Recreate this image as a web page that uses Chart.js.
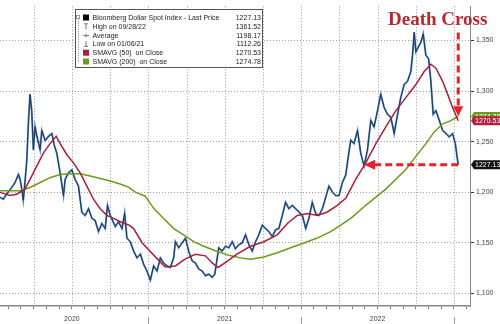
<!DOCTYPE html>
<html>
<head>
<meta charset="utf-8">
<script src="https://cdn.jsdelivr.net/npm/chart.js@4.4.0/dist/chart.umd.min.js"></script>
<style>
  html, body { margin: 0; padding: 0; background: #fff; }
  #wrap { width: 500px; height: 324px; }
</style>
</head>
<body>
<div id="wrap"><canvas id="chart" width="500" height="324"></canvas></div>
<script>

// time axis in decimal years
const priceT = [
  2020.030,2020.051,2020.073,2020.106,2020.128,2020.150,2020.161,2020.172,2020.182,2020.193,
  2020.205,2020.215,2020.226,2020.237,2020.248,2020.259,2020.270,2020.292,2020.303,2020.325,
  2020.346,2020.369,2020.384,2020.401,2020.423,2020.445,2020.456,2020.477,2020.500,2020.521,
  2020.543,2020.565,2020.587,2020.609,2020.631,2020.652,2020.674,2020.696,2020.718,2020.733,
  2020.751,2020.784,2020.805,2020.828,2020.845,2020.860,2020.882,2020.904,2020.926,2020.948,
  2020.969,2020.991,2021.013,2021.035,2021.057,2021.079,2021.100,2021.123,2021.144,2021.166,
  2021.177,2021.199,2021.221,2021.243,2021.264,2021.287,2021.308,2021.330,2021.352,2021.374,
  2021.395,2021.418,2021.435,2021.451,2021.461,2021.483,2021.505,2021.527,2021.549,2021.570,
  2021.592,2021.614,2021.636,2021.658,2021.680,2021.702,2021.723,2021.746,2021.767,2021.789,
  2021.811,2021.833,2021.854,2021.877,2021.898,2021.920,2021.942,2021.964,2021.986,2022.008,
  2022.030,2022.051,2022.073,2022.095,2022.117,2022.139,2022.161,2022.182,2022.205,2022.226,
  2022.248,2022.270,2022.292,2022.313,2022.325,2022.346,2022.369,2022.390,2022.412,2022.434,
  2022.456,2022.477,2022.500,2022.521,2022.543,2022.565,2022.587,2022.609,2022.631,2022.652,
  2022.674,2022.696,2022.718,2022.729,2022.740,2022.751,2022.772,2022.784,2022.799,2022.816,
  2022.834,2022.849,2022.864,2022.882,2022.904,2022.926,2022.948,2022.969,2022.991,2023.009,
  2023.020,2023.028
];
const priceV = [
  1195,1193,1198,1204.6,1209.5,1217.5,1212.7,1203,1192,1210,
  1232,1267.6,1296.7,1280.6,1241.8,1264.7,1256,1241.8,1261,1251,
  1255,1258,1246.6,1238.6,1219,1196.6,1212.7,1219,1222,1212.7,
  1206,1180,1177,1183.6,1174,1172,1161,1169,1164,1187,
  1177,1166,1170.7,1164,1179,1154.6,1151,1141.7,1135,1138.8,
  1128.8,1122,1113,1127,1122,1135,1130,1127,1125.5,1135,
  1151,1145,1149.7,1154.6,1141.7,1132,1130,1124,1122,1117.4,
  1119,1115.8,1119,1135,1145,1141.7,1146.5,1145,1151,1144,
  1148,1149.7,1157.8,1148,1141.7,1151,1157.8,1167.5,1164,1161,
  1156,1162.7,1164,1177,1190,1183.6,1187,1183.6,1180.4,1177,
  1164,1174,1190,1178.8,1177,1183.6,1195,1206,1200,1196.6,
  1196.6,1209.5,1217,1240,1251.5,1248,1261,1238.6,1225.7,1241.8,
  1271,1264.5,1280.6,1296.7,1283.8,1277,1274,1258,1277,1293.5,
  1306.4,1309.6,1319.3,1335.5,1358,1338.7,1345,1348.5,1356.5,1335.5,
  1332,1309.6,1277,1280.6,1271,1261,1258,1254.7,1258,1248,
  1235.4,1227.13
];

const sma50T = [
  2020.030,2020.095,2020.139,2020.193,2020.226,2020.270,2020.313,2020.357,2020.397,2020.423,
  2020.467,2020.510,2020.554,2020.598,2020.641,2020.685,2020.729,2020.772,2020.816,2020.871,
  2020.904,2020.959,2021.046,2021.111,2021.177,2021.243,2021.308,2021.374,2021.418,2021.456,
  2021.511,2021.582,2021.669,2021.756,2021.844,2021.910,2021.975,2022.041,2022.106,2022.172,
  2022.237,2022.292,2022.357,2022.423,2022.489,2022.554,2022.620,2022.685,2022.751,2022.805,
  2022.849,2022.882,2022.926,2022.959,2022.991,2023.028
];
const sma50V = [
  1199.8,1196.6,1198,1203,1212.7,1225.7,1238.6,1248,1255.3,1248,
  1237,1229,1219,1206,1193,1183.6,1177,1174,1170.7,1167.5,
  1164,1150,1136,1126,1127,1134,1138.5,1137,1130,1125.5,
  1131,1139,1146.5,1151,1157.8,1169,1177,1178.8,1177,1180.4,
  1187,1194,1212.7,1229,1248,1264.5,1280.6,1293.5,1306.4,1319.3,
  1326.5,1322.6,1309.6,1296.7,1283.8,1270.53
];

const sma200T = [
  2020.030,2020.161,2020.226,2020.292,2020.357,2020.423,2020.489,2020.554,2020.620,2020.685,
  2020.751,2020.816,2020.871,2020.915,2020.980,2021.035,2021.100,2021.166,2021.231,2021.297,
  2021.363,2021.439,2021.527,2021.603,2021.669,2021.756,2021.844,2021.931,2022.018,2022.106,
  2022.193,2022.259,2022.325,2022.423,2022.489,2022.554,2022.620,2022.685,2022.751,2022.816,
  2022.871,2022.926,2022.969,2023.028
];
const sma200V = [
  1201.4,1201.4,1204.6,1209.5,1214.3,1217.5,1218.2,1218.2,1216,1213.4,
  1211,1208,1205,1200,1196,1184,1174,1164,1157.8,1151,
  1146.5,1142,1137.5,1135,1133.6,1135.8,1140,1145,1149.7,1154.6,
  1161,1167.5,1174,1187,1195,1203,1212.7,1222.4,1235.4,1248,
  1259.6,1267.6,1270,1274.78
];

const yTicks = [1100, 1150, 1200, 1250, 1300, 1350];
const years = [2020, 2021, 2022, 2023];

const legendLabels = [
  'Bloomberg Dollar Spot Index - Last Price',
  'High on 09/28/22',
  'Average',
  'Low on 01/06/21',
  'SMAVG (50)  on Close',
  'SMAVG (200)  on Close'
];
const legendValues = ['1227.13', '1361.52', '1198.17', '1112.26', '1270.53', '1274.78'];

const RED = '#a4213f';
const GREEN = '#6b9a1f';
const ARROW = '#e3232b';
const GRID = '#9a9a9a';
const FONT = '"Liberation Sans", Arial, sans-serif';

function pts(t, v) {
  return t.map(function(x, i) { return {x: x, y: v[i]}; });
}

/*
* extra drawings: vertical grid, legend box, year separators, last value tags, annotation
*/
const decorations = {
  id: 'decorations',
  beforeDatasetsDraw: function(chart) {
    const ctx = chart.ctx;
    const xs = chart.scales.x;
    const area = chart.chartArea;

    // dotted vertical grid every quarter
    ctx.save();
    ctx.strokeStyle = GRID;
    ctx.lineWidth = 1;
    ctx.setLineDash([1, 2]);
    for (let q = 0; q <= 13; q++) {
      const px = Math.round(xs.getPixelForValue(2020 + q / 4)) + 0.5;
      if (px <= area.left || px >= area.right) continue;
      ctx.beginPath();
      ctx.moveTo(px, area.top);
      ctx.lineTo(px, area.bottom);
      ctx.stroke();
    }
    ctx.restore();
  },
  afterDraw: function(chart) {
    const ctx = chart.ctx;
    const xs = chart.scales.x;
    const ys = chart.scales.y;
    const area = chart.chartArea;

    ctx.save();

    // year separators under the axis
    ctx.strokeStyle = '#999';
    ctx.lineWidth = 1;
    years.forEach(function(yr) {
      const px = Math.round(xs.getPixelForValue(yr)) + 0.5;
      if (px > area.left && px < area.right) {
        ctx.beginPath();
        ctx.moveTo(px, area.bottom + 11);
        ctx.lineTo(px, 324);
        ctx.stroke();
      }
    });

    // last value tags on the right axis
    const tags = [
      [sma200V[sma200V.length - 1], GREEN, '#fff'],
      [sma50V[sma50V.length - 1], '#b3203f', '#fff'],
      [priceV[priceV.length - 1], '#111', '#fff']
    ];
    tags.forEach(function(tag) {
      const py = ys.getPixelForValue(tag[0]);
      ctx.fillStyle = tag[1];
      ctx.beginPath();
      ctx.moveTo(area.right + 1, py);
      ctx.lineTo(area.right + 4, py - 4.5);
      ctx.lineTo(500, py - 4.5);
      ctx.lineTo(500, py + 4.5);
      ctx.lineTo(area.right + 4, py + 4.5);
      ctx.closePath();
      ctx.fill();
      ctx.fillStyle = tag[2];
      ctx.font = '7px ' + FONT;
      ctx.textBaseline = 'middle';
      ctx.textAlign = 'left';
      ctx.fillText(tag[0].toFixed(2), area.right + 5, py + 0.5);
    });

    // legend box
    ctx.fillStyle = '#fff';
    ctx.fillRect(75.5, 9.5, 187, 58);
    ctx.strokeStyle = '#555';
    ctx.lineWidth = 1;
    ctx.strokeRect(75.5, 9.5, 187, 58);

    // little tree on the left
    ctx.strokeStyle = '#999';
    ctx.strokeRect(76.5, 15.5, 3, 3);
    ctx.setLineDash([1, 1]);
    ctx.beginPath();
    ctx.moveTo(78.5, 19);
    ctx.lineTo(78.5, 62);
    ctx.stroke();
    ctx.setLineDash([]);

    ctx.font = '7px ' + FONT;
    ctx.textBaseline = 'middle';
    legendLabels.forEach(function(label, i) {
      const ry = 17.5 + i * 8.8;
      ctx.strokeStyle = '#777';
      ctx.lineWidth = 1;
      if (i == 0 || i == 4 || i == 5) {
        ctx.fillStyle = i == 0 ? '#000' : (i == 4 ? RED : GREEN);
        ctx.fillRect(83, ry - 3, 6, 6);
      } else if (i == 1) {
        ctx.beginPath();
        ctx.moveTo(84, ry - 2.5); ctx.lineTo(88, ry - 2.5);
        ctx.moveTo(86, ry - 2.5); ctx.lineTo(86, ry + 3);
        ctx.stroke();
      } else if (i == 2) {
        ctx.beginPath();
        ctx.moveTo(83, ry + 0.5); ctx.lineTo(89, ry + 0.5);
        ctx.moveTo(86, ry - 1.5); ctx.lineTo(86, ry + 2.5);
        ctx.stroke();
      } else {
        ctx.beginPath();
        ctx.moveTo(86, ry - 3); ctx.lineTo(86, ry + 2.5);
        ctx.moveTo(84, ry + 2.5); ctx.lineTo(88, ry + 2.5);
        ctx.stroke();
      }
      ctx.fillStyle = '#222';
      ctx.textAlign = 'left';
      ctx.fillText(label, 92.5, ry + 0.5);
      ctx.textAlign = 'right';
      ctx.fillText(legendValues[i], 261, ry + 0.5);
    });

    // "Death Cross" annotation
    ctx.fillStyle = '#b8282f';
    ctx.font = 'bold 19px "Liberation Serif", "Times New Roman", serif';
    ctx.textAlign = 'left';
    ctx.textBaseline = 'alphabetic';
    ctx.fillText('Death Cross', 388, 25);

    const lastT = priceT[priceT.length - 1];
    const ax = xs.getPixelForValue(lastT);

    // vertical dashed arrow down to the cross
    const top = ys.getPixelForValue(1358);
    const tip = ys.getPixelForValue(1275);
    ctx.strokeStyle = ARROW;
    ctx.fillStyle = ARROW;
    ctx.lineWidth = 3;
    ctx.setLineDash([7, 4]);
    ctx.beginPath();
    ctx.moveTo(ax, top);
    ctx.lineTo(ax, tip - 10);
    ctx.stroke();
    ctx.setLineDash([]);
    ctx.beginPath();
    ctx.moveTo(ax - 5, tip - 10);
    ctx.lineTo(ax + 5, tip - 10);
    ctx.lineTo(ax, tip);
    ctx.closePath();
    ctx.fill();

    // horizontal dashed arrow back to the May low
    const hy = ys.getPixelForValue(priceV[priceV.length - 1]);
    const hx = xs.getPixelForValue(2022.412);
    ctx.setLineDash([7, 4]);
    ctx.beginPath();
    ctx.moveTo(ax, hy);
    ctx.lineTo(hx + 11, hy);
    ctx.stroke();
    ctx.setLineDash([]);
    ctx.beginPath();
    ctx.moveTo(hx + 11, hy - 5);
    ctx.lineTo(hx + 11, hy + 5);
    ctx.lineTo(hx, hy);
    ctx.closePath();
    ctx.fill();

    ctx.restore();
  }
};

new Chart(document.getElementById('chart'), {
  type: 'line',
  data: {
    datasets: [
      {
        label: 'SMAVG (50)',
        data: pts(sma50T, sma50V),
        borderColor: RED,
        borderWidth: 1.5,
        order: 1
      },
      {
        label: 'SMAVG (200)',
        data: pts(sma200T, sma200V),
        borderColor: GREEN,
        borderWidth: 1.5,
        order: 2
      },
      {
        label: 'Last Price',
        data: pts(priceT, priceV),
        borderColor: '#17243a',
        borderWidth: 0.8,
        order: 3
      },
      {
        label: 'Last Price (shade)',
        data: pts(priceT, priceV),
        borderColor: '#4f84c2',
        borderWidth: 1.9,
        order: 4
      }
    ]
  },
  options: {
    responsive: false,
    animation: false,
    layout: { padding: 0 },
    elements: { point: { radius: 0 }, line: { tension: 0 } },
    plugins: { legend: { display: false }, tooltip: { enabled: false } },
    scales: {
      x: {
        type: 'linear',
        min: 2020.0295,
        max: 2023.105,
        afterBuildTicks: function(scale) {
          const ticks = [];
          for (let m = 0; m <= 40; m++) {
            const v = 2020 + m / 12;
            if (v >= scale.min && v <= scale.max) ticks.push({value: v});
          }
          scale.ticks = ticks;
        },
        afterFit: function(scale) { scale.height = 18; },
        ticks: {
          autoSkip: false,
          maxRotation: 0,
          padding: 6,
          color: '#444',
          font: { family: FONT, size: 7 },
          callback: function(value) {
            const m = Math.round(value * 12);
            return m % 12 == 6 ? String(Math.floor(value)) : '';
          }
        },
        grid: {
          drawOnChartArea: false,
          tickColor: '#777',
          tickLength: 3,
          lineWidth: 1
        },
        border: { color: '#888', width: 1.5 }
      },
      y: {
        position: 'right',
        min: 1087.4,
        max: 1383.9,
        afterBuildTicks: function(scale) {
          scale.ticks = yTicks.map(function(v) { return {value: v}; });
        },
        afterFit: function(scale) { scale.width = 30; },
        ticks: {
          padding: 2,
          color: '#444',
          font: { family: FONT, size: 7 }
        },
        grid: {
          color: GRID,
          tickColor: '#333',
          tickLength: 4,
          lineWidth: 1
        },
        border: { color: '#888', width: 1, dash: [1, 2] }
      }
    }
  },
  plugins: [decorations]
});
</script>
</body>
</html>
